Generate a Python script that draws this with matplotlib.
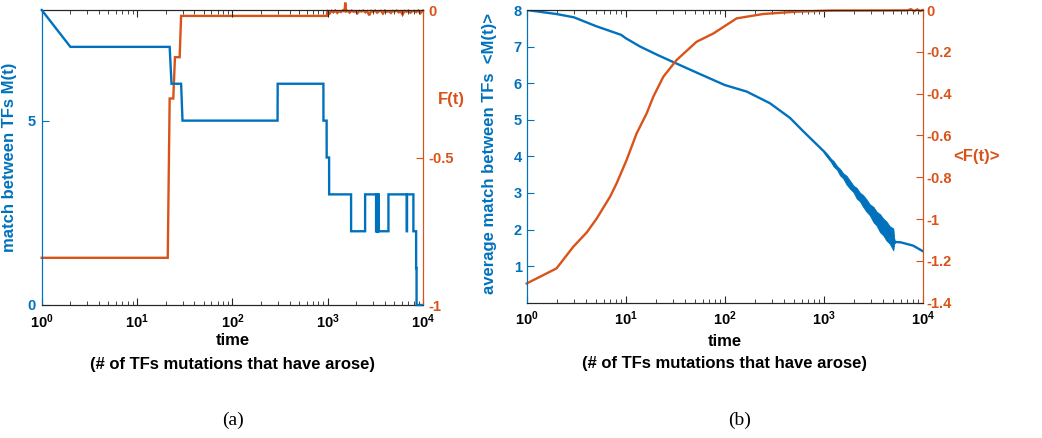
import numpy as np
import matplotlib
matplotlib.use("Agg")
import matplotlib.pyplot as plt
from matplotlib.ticker import LogLocator, NullFormatter

plt.rcParams['font.family'] = ['Liberation Sans', 'DejaVu Sans']
plt.rcParams['font.weight'] = 'bold'
plt.rcParams['axes.unicode_minus'] = False
plt.rcParams['mathtext.fontset'] = 'custom'
plt.rcParams['mathtext.rm'] = 'Liberation Sans:bold'
plt.rcParams['mathtext.it'] = 'Liberation Sans:bold:italic'
plt.rcParams['mathtext.bf'] = 'Liberation Sans:bold'

BLUE = '#0072BD'
ORANGE = '#D95319'
GRAY = '#262626'

# ---- panel (a): single run ----
m_time = [1, 2, 22, 23, 29, 30, 298, 299, 902, 903, 975, 976, 1035, 1036,
          1760, 1761, 2470, 2471, 3220, 3221, 3250, 3251, 3280, 3281, 3310, 3311,
          3350, 3351, 3390, 3391, 3430, 3431, 4340, 4341, 6760, 6761, 6800, 6801,
          7930, 7931, 8470, 8471, 8560, 8561, 9700]
m_value = [8, 7, 7, 6, 6, 5, 5, 6, 6, 5, 5, 4, 4, 3,
           3, 2, 2, 3, 3, 2, 2, 3, 3, 2, 2, 3,
           3, 2, 2, 3, 3, 2, 2, 3, 3, 2, 2, 3,
           3, 2, 2, 1, 1, 0, 0]

f_time = [1, 21, 22, 24, 25, 28, 29, 980, 990,
          1000, 1050, 1100, 1150, 1200, 1260, 1320, 1380, 1450, 1500, 1530, 1560,
          1620, 1700, 1780, 1870, 1960, 2050, 2150, 2260, 2370, 2480, 2600, 2730,
          2860, 3000, 3150, 3300, 3460, 3630, 3800, 3990, 4180, 4390, 4600, 4820,
          5060, 5300, 5560, 5830, 6110, 6410, 6720, 7050, 7390, 7750, 8130, 8520,
          8940, 9370, 9830, 10000]
f_value = [-0.84, -0.84, -0.30, -0.30, -0.16, -0.16, -0.02, -0.02, -0.006,
           -0.004, -0.012, -0.003, -0.008, -0.002, -0.010, -0.004, -0.007, -0.001, -0.006, 0.025, -0.005,
           -0.003, -0.009, -0.002, -0.006, -0.004, -0.011, -0.003, -0.005, -0.002, -0.008, -0.004, -0.018,
           -0.003, -0.006, -0.002, -0.009, -0.004, -0.003, -0.012, -0.002, -0.006, -0.004, -0.010, -0.003,
           -0.005, -0.002, -0.008, -0.004, -0.016, -0.003, -0.006, -0.002, -0.009, -0.004, -0.003, -0.007,
           -0.002, -0.011, -0.004, -0.002]

# ---- panel (b): averages over runs ----
avg_time = [1, 2, 3, 5, 9, 10, 14, 21, 33, 52, 100, 167, 287, 457, 624,
            1000, 1460, 2150, 3180, 5050, 5200, 6000, 8000, 10000]
avg_m = [8.0, 7.89, 7.8, 7.56, 7.32, 7.23, 7.0, 6.77, 6.53, 6.29, 5.95, 5.77, 5.45, 5.05, 4.68,
         4.14, 3.58, 3.00, 2.41, 1.73, 1.66, 1.65, 1.56, 1.41]

# spread of the run-to-run fluctuations around <M(t)> at late times
band_time = [1000, 1090, 1170, 1260, 1360, 1460, 1570, 1700, 1850, 2000, 2150, 2320,
             2500, 2700, 2920, 3180, 3420, 3700, 4000, 4300, 4650, 5050, 5150, 5250]
band_low = [4.12, 3.97, 3.87, 3.72, 3.64, 3.48, 3.40, 3.23, 3.11, 3.02, 2.85, 2.77,
            2.62, 2.49, 2.39, 2.20, 2.11, 1.93, 1.84, 1.70, 1.61, 1.43, 1.62, 1.63]
band_high = [4.16, 4.06, 3.95, 3.87, 3.74, 3.66, 3.54, 3.47, 3.33, 3.20, 3.14, 3.01,
             2.94, 2.83, 2.69, 2.62, 2.49, 2.42, 2.30, 2.22, 2.09, 2.03, 1.77, 1.67]

avg_f_time = [1, 2, 2.96, 4.04, 5.1, 6.95, 8.1, 10.2, 12.9, 16.3, 19, 24, 32.7, 52,
              77, 100, 132, 246, 530, 1150, 7000, 7600, 8200, 8800, 9400, 10000]
avg_f = [-1.308, -1.236, -1.132, -1.064, -0.997, -0.893, -0.829, -0.718, -0.590, -0.494,
         -0.415, -0.319, -0.239, -0.152, -0.112, -0.077, -0.040, -0.019, -0.008, -0.003,
         -0.002, 0.004, -0.006, 0.003, -0.005, 0.0]

x_ticks = [1, 10, 100, 1000, 10000]
x_tick_labels = [r'$10^{0}$', r'$10^{1}$', r'$10^{2}$', r'$10^{3}$', r'$10^{4}$']

a_left_ticks = [0, 5]
a_right_ticks = [-1, -0.5, 0]
a_right_labels = ['-1', '-0.5', '0']
b_left_ticks = [1, 2, 3, 4, 5, 6, 7, 8]
b_right_ticks = [-1.4, -1.2, -1.0, -0.8, -0.6, -0.4, -0.2, 0]
b_right_labels = ['-1.4', '-1.2', '-1', '-0.8', '-0.6', '-0.4', '-0.2', '0']

XLABEL_1 = 'time'
XLABEL_2 = '(# of TFs mutations that have arose)'

TICK_FS = 10.5
LABEL_FS = 12

fig = plt.figure(figsize=(10.42, 4.38), dpi=100)

W, H = 1042.0, 438.0
ax_a = fig.add_axes([41.7 / W, 1 - 305 / H, (423 - 41.7) / W, (305 - 10) / H])
ax_b = fig.add_axes([526.7 / W, 1 - 302.7 / H, (922.7 - 526.7) / W, (302.7 - 10) / H])


def style_axes(ax, axr, lpad, rpad, y1, y2):
    ax.set_xscale('log')
    ax.set_xlim(1, 1e4)
    ax.set_xticks(x_ticks)
    ax.set_xticklabels(x_tick_labels)
    ax.xaxis.set_minor_locator(LogLocator(base=10, subs=np.arange(2, 10), numticks=20))
    ax.xaxis.set_minor_formatter(NullFormatter())
    ax.tick_params(axis='x', which='major', direction='in', length=5, width=0.8,
                   top=True, colors=GRAY, labelsize=TICK_FS, labelcolor='black', pad=5)
    ax.tick_params(axis='x', which='minor', direction='in', length=3, width=0.6,
                   top=True, colors=GRAY)
    ax.tick_params(axis='y', which='both', direction='in', length=5, width=0.8,
                   colors=BLUE, labelsize=TICK_FS, pad=lpad)
    axr.tick_params(axis='y', which='both', direction='in', length=5, width=0.8,
                    colors=ORANGE, labelsize=TICK_FS, pad=rpad)
    for a in (ax, axr):
        a.spines['top'].set_color(GRAY)
        a.spines['bottom'].set_color(GRAY)
        a.spines['left'].set_color(BLUE)
        a.spines['right'].set_color(ORANGE)
        for s in a.spines.values():
            s.set_linewidth(0.8)
    ax.set_xlabel(XLABEL_1, fontsize=LABEL_FS, fontweight='bold', color='black')
    ax.xaxis.label.set_va('center')
    ax.xaxis.set_label_coords(0.5, y1)
    ax.text(0.5, y2, XLABEL_2, transform=ax.transAxes, ha='center', va='center',
            fontsize=LABEL_FS, fontweight='bold', color='black')


# panel (a)
ax_a2 = ax_a.twinx()
ax_a.plot(m_time, m_value, color=BLUE, lw=1.7, solid_joinstyle='miter', clip_on=False, zorder=3)
ax_a2.plot(f_time, f_value, color=ORANGE, lw=1.7, solid_joinstyle='miter', clip_on=False)
ax_a.set_ylim(0, 8)
ax_a.set_yticks(a_left_ticks)
ax_a2.set_ylim(-1, 0)
ax_a2.set_yticks(a_right_ticks)
ax_a2.set_yticklabels(a_right_labels)
style_axes(ax_a, ax_a2, 4.5, 3.6, -0.122, -0.200)
ax_a.set_zorder(ax_a2.get_zorder() + 1)
ax_a.patch.set_visible(False)
ax_a.set_ylabel('match between TFs M(t)', fontsize=LABEL_FS, fontweight='bold', color=BLUE)
ax_a.yaxis.set_label_coords(-0.0635, 0.5)
ax_a2.set_ylabel('F(t)', fontsize=LABEL_FS, fontweight='bold', color=ORANGE, rotation=0,
                 ha='center', va='center')
ax_a2.yaxis.set_label_coords(1.075, 0.695)

# panel (b)
ax_b2 = ax_b.twinx()
ax_b.fill_between(band_time, band_low, band_high, color=BLUE, lw=0.6, zorder=3)
ax_b.plot(avg_time, avg_m, color=BLUE, lw=1.7, zorder=3)
ax_b2.plot(avg_f_time, avg_f, color=ORANGE, lw=1.7, clip_on=False)
ax_b.set_ylim(0, 8)
ax_b.set_yticks(b_left_ticks)
ax_b2.set_ylim(-1.4, 0)
ax_b2.set_yticks(b_right_ticks)
ax_b2.set_yticklabels(b_right_labels)
style_axes(ax_b, ax_b2, 3.4, 3.0, -0.131, -0.2094)
ax_b.set_ylabel('average match between TFs  <M(t)>', fontsize=LABEL_FS, fontweight='bold', color=BLUE)
ax_b.yaxis.set_label_coords(-0.075, 0.51)
ax_b2.set_ylabel('<F(t)>', fontsize=LABEL_FS, fontweight='bold', color=ORANGE, rotation=0,
                 ha='center', va='center')
ax_b2.yaxis.set_label_coords(1.135, 0.498)

fig.text(233 / W, 1 - 420 / H, '(a)', ha='center', va='center', fontsize=14,
         fontweight='normal', family=['Liberation Serif', 'DejaVu Serif'])
fig.text(740 / W, 1 - 420 / H, '(b)', ha='center', va='center', fontsize=14,
         fontweight='normal', family=['Liberation Serif', 'DejaVu Serif'])

fig.savefig('out.png', dpi=100)
